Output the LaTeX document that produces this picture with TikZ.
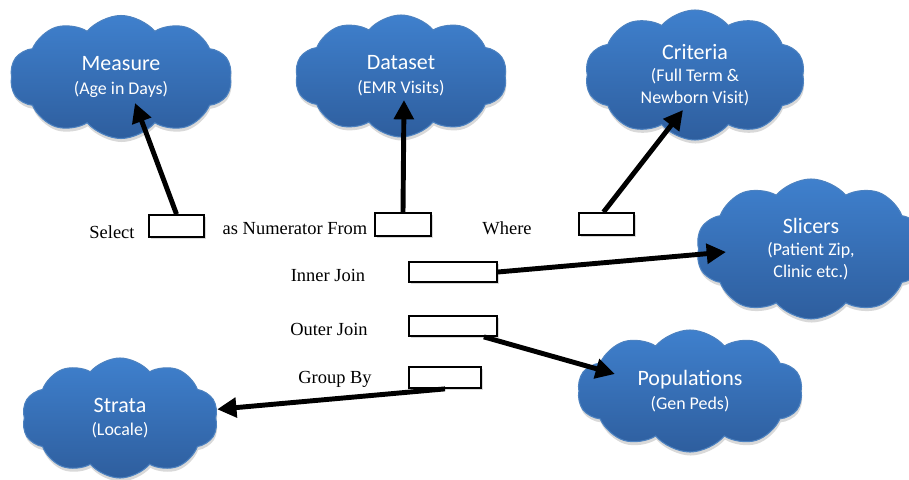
\documentclass[tikz,border=0pt]{standalone}
\usepackage{fontspec}
\setmainfont{Liberation Serif}
\newfontfamily\cloudfont{Carlito}
\usepackage{tikz}
\usetikzlibrary{arrows.meta,shapes.symbols,shadows}

\definecolor{cloudtop}{HTML}{3F80CD}
\definecolor{cloudbot}{HTML}{2E5E9E}
\definecolor{cloudedge}{HTML}{4D82C0}

\begin{document}
\begin{tikzpicture}[every node/.style={font=\fontsize{10.5}{12}\selectfont},
  cloudbox/.style={cloud,cloud puffs=10,cloud puff arc=100,cloud ignores aspect,draw=cloudedge,line width=0.6pt,top color=cloudtop,bottom color=cloudbot,text=white,align=center,inner sep=0pt,font=\cloudfont\fontsize{10.2}{13.5}\selectfont,drop shadow={opacity=0.3,shadow xshift=0.4pt,shadow yshift=-2pt}},
  slot/.style={draw=black,line width=1pt,fill=white,minimum height=0.44cm,inner sep=0pt,drop shadow={opacity=0.3,shadow xshift=1pt,shadow yshift=-1pt}},
  arr/.style={-{Triangle[length=11pt,width=11pt]},line width=2.8pt}]
\useasboundingbox (0,0) rectangle (18.18,-9.58);
% clouds
\node[cloudbox,minimum width=4.44cm,minimum height=2.46cm] (measure) at (2.42,-1.54) {{\fontsize{12.5}{15}\selectfont Measure}\\(Age in Days)};
\node[cloudbox,minimum width=4.24cm,minimum height=2.44cm] (dataset) at (8.02,-1.52) {{\fontsize{12.5}{15}\selectfont Dataset}\\(EMR Visits)};
\node[cloudbox,minimum width=4.40cm,minimum height=2.60cm] (criteria) at (13.90,-1.50) {{\fontsize{12.5}{15}\selectfont Criteria}\\[-1pt](Full Term \&\\[-1pt]Newborn Visit)};
\node[cloudbox,minimum width=4.60cm,minimum height=2.80cm] (slicers) at (16.22,-4.98) {{\fontsize{12.5}{15}\selectfont Slicers}\\[-1pt](Patient Zip,\\[-1pt]Clinic etc.)};
\node[cloudbox,minimum width=4.50cm,minimum height=2.44cm] (pop) at (13.80,-7.82) {{\fontsize{12.5}{15}\selectfont Populations}\\(Gen Peds)};
\node[cloudbox,minimum width=3.92cm,minimum height=2.40cm] (strata) at (2.40,-8.36) {{\fontsize{12.5}{15}\selectfont Strata}\\(Locale)};
% query text
\node (sel) at (2.24,-4.64) {Select};
\node (num) at (5.90,-4.58) {as Numerator From};
\node (where) at (10.14,-4.56) {Where};
\node (inner) at (6.56,-5.50) {Inner Join};
\node (outer) at (6.58,-6.58) {Outer Join};
\node (group) at (6.70,-7.58) {Group By};
% blanks
\node[slot,minimum width=1.10cm] (b1) at (3.53,-4.52) {};
\node[slot,minimum width=1.12cm,minimum height=0.46cm] (b2) at (8.06,-4.49) {};
\node[slot,minimum width=1.10cm] (b3) at (12.13,-4.48) {};
\node[slot,minimum width=1.76cm,minimum height=0.40cm] (b4) at (9.06,-5.44) {};
\node[slot,minimum width=1.76cm,minimum height=0.40cm] (b5) at (9.06,-6.52) {};
\node[slot,minimum width=1.44cm,minimum height=0.42cm] (b6) at (8.90,-7.55) {};
% arrow ends inside the clouds
\coordinate (measure in) at ([shift={(0.28,-0.52)}]measure.center);
\coordinate (dataset in) at ([shift={(0.06,-0.48)}]dataset.center);
\coordinate (criteria in) at ([shift={(-0.24,-0.70)}]criteria.center);
\coordinate (slicers in) at ([shift={(-1.70,-0.06)}]slicers.center);
\coordinate (pop in) at ([shift={(-1.50,0.34)}]pop.center);
\draw[arr] (b1.north) -- (measure in);
\draw[arr] (b2.north) -- (dataset in);
\draw[arr] ([xshift=-0.06cm]b3.north) -- (criteria in);
\draw[arr] (b4.east) -- (slicers in);
\draw[arr] ([xshift=-0.28cm]b5.south east) -- (pop in);
\draw[arr] (b6.south) -- (strata);
\end{tikzpicture}
\end{document}
